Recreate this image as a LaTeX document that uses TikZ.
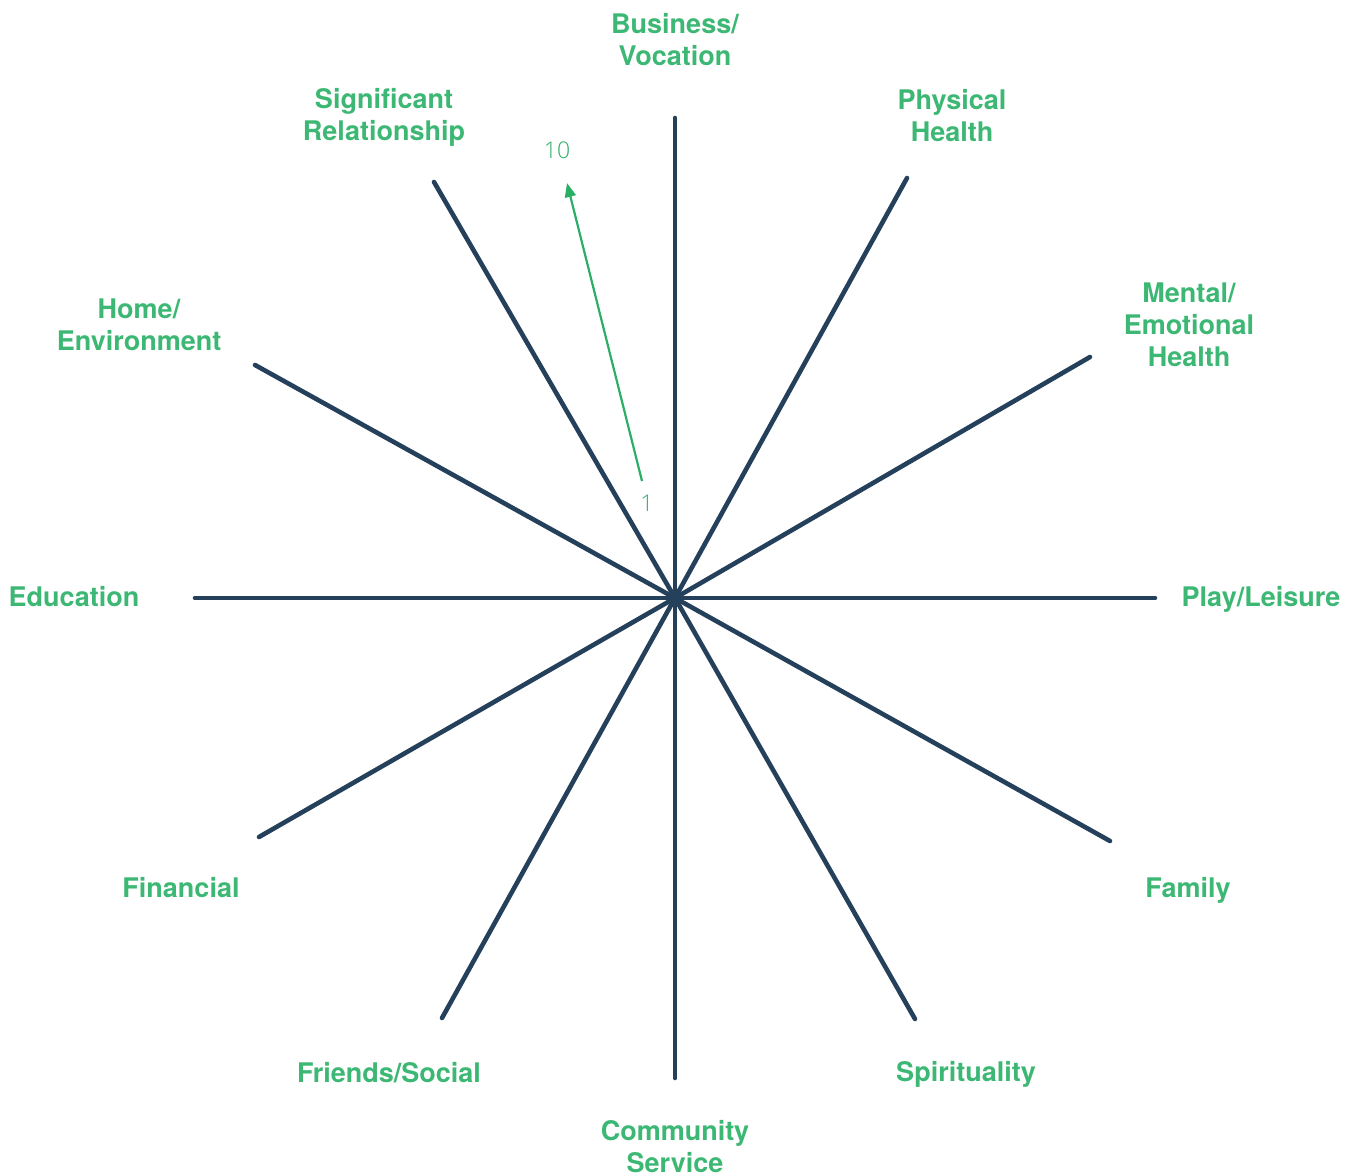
\documentclass[tikz,border=0pt]{standalone}
\usepackage{fontspec}
\setmainfont{TeX Gyre Heros}
\newfontfamily\thinfont{Open Sans}[UprightFont=* Light]
\usetikzlibrary{arrows.meta}
\definecolor{spoke}{HTML}{25405A}
\definecolor{labelgreen}{HTML}{3DB874}
\definecolor{arrowgreen}{HTML}{2BAF66}
\begin{document}
\begin{tikzpicture}[x=1pt,y=-1pt,
  spokeline/.style={draw=spoke,line width=4.6pt,line cap=round},
  area/.style={text=labelgreen,font=\bfseries\fontsize{27}{32}\selectfont,align=center,inner sep=0pt},
  oneline/.style={text height=19pt,text depth=0pt},
  scalenum/.style={text=arrowgreen,font=\thinfont\fontsize{23}{28}\selectfont,inner sep=0pt,text height=17pt,text depth=0pt},
  scalearrow/.style={draw=arrowgreen,line width=2.2pt,-{Triangle[length=14pt,width=11pt]}}]
  \useasboundingbox (0,0) rectangle (1356,1175);

  % hub and spoke ends
  \coordinate (c) at (675,598);
  \coordinate (eN)   at (675,118);
  \coordinate (eNE)  at (907,178);
  \coordinate (eENE) at (1090,357);
  \coordinate (eE)   at (1155,598);
  \coordinate (eESE) at (1110,841);
  \coordinate (eSE)  at (915,1019);
  \coordinate (eS)   at (675,1078);
  \coordinate (eSW)  at (442,1018);
  \coordinate (eWSW) at (259,837);
  \coordinate (eW)   at (195,598);
  \coordinate (eWNW) at (255,365);
  \coordinate (eNW)  at (434,182);

  \foreach \e in {eN,eNE,eENE,eE,eESE,eSE,eS,eSW,eWSW,eW,eWNW,eNW}
    \draw[spokeline] (c) -- (\e);

  % scale indicator
  \coordinate (lo) at (642,481);
  \coordinate (hi) at (567,183);
  \draw[scalearrow] (lo) -- (hi);
  \node[scalenum] (n1)  at (647,503) {1};
  \node[scalenum] (n10) at (557,150) {10};

  % area labels
  \node[area] (business)  at (675,40)   {Business/\\Vocation};
  \node[area] (physical)  at (952,116)  {Physical\\Health};
  \node[area] (mental)    at (1189,325) {Mental/\\Emotional\\Health};
  \node[area,oneline] (play)      at (1261,597) {Play/Leisure};
  \node[area,oneline] (family)    at (1188,888) {Family};
  \node[area,oneline] (spirit)    at (966,1072) {Spirituality};
  \node[area] (community) at (675,1147) {Community\\Service};
  \node[area,oneline] (friends)   at (389,1073) {Friends/Social};
  \node[area,oneline] (financial) at (181,888)  {Financial};
  \node[area,oneline] (education) at (74,597)   {Education};
  \node[area] (home)      at (139,325)  {Home/\\Environment};
  \node[area] (signif)    at (384,117)  {Significant\\Relationship};
\end{tikzpicture}
\end{document}
